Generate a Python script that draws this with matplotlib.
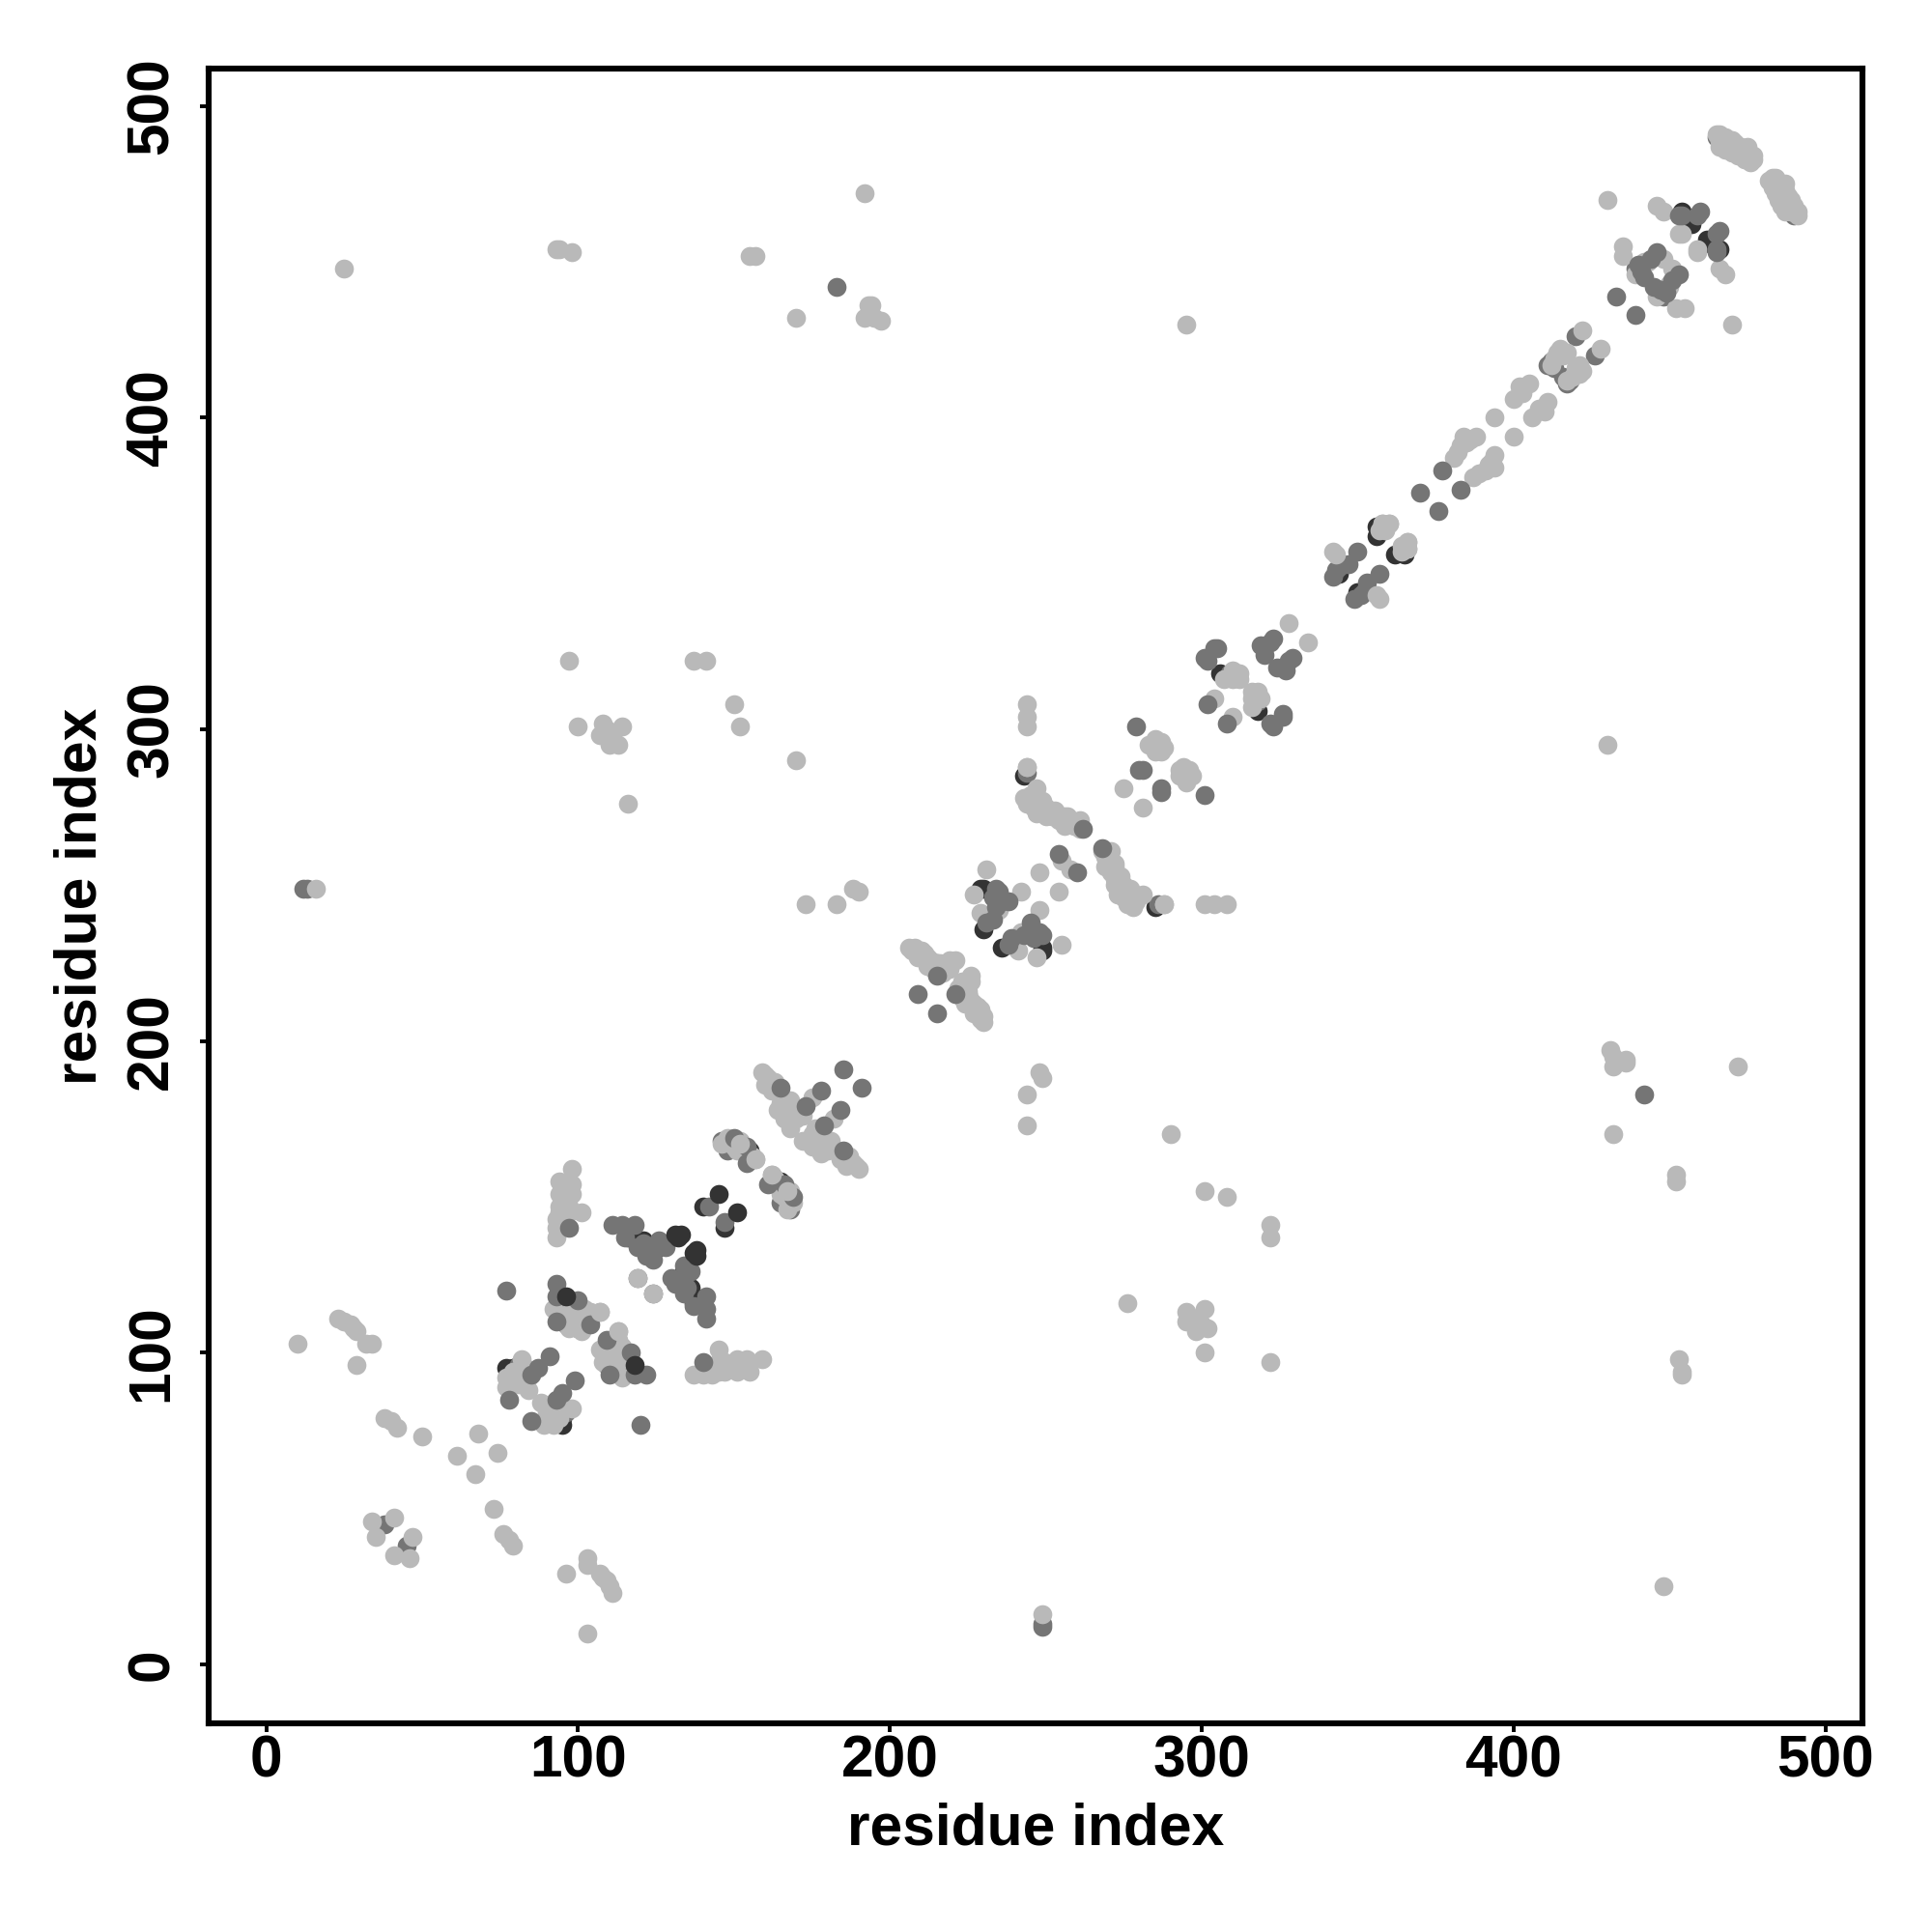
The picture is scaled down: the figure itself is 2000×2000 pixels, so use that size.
#!/usr/bin/env python3
"""Residue contact map, greyscale by contact strength."""

import matplotlib

matplotlib.use("Agg")
import matplotlib.pyplot as plt

# contacts as (i, j) with i < j, each one is drawn on both sides of the diagonal
# drawn in order: dark, mid, light, then the strong ones that sit on top
dark_pairs = [
    (77, 95), (98, 113), (116, 137), (121, 136), (124, 133), (126, 134),
    (140, 147), (155, 165), (155, 162), (229, 249), (230, 236), (230, 249),
    (243, 285), (306, 318), (356, 362), (356, 365), (456, 463), (457, 462),
    (454, 466), (307, 317), (344, 350), (79, 95), (96, 112),
]
mid_under_pairs = [
    (12, 249), (13, 249), (38, 45), (77, 120), (119, 124), (244, 286), (411, 417),
    (420, 426), (441, 447), (439, 448), (309, 318), (305, 326), (301, 323),
    (281, 287), (81, 96), (79, 92), (94, 113), (96, 109), (100, 108), (215, 225),
    (165, 183), (166, 178), (146, 168), (148, 165), (412, 418), (413, 416),
    (465, 490), (468, 488), (474, 485),
]
light_pairs = [
    (10, 103), (16, 249), (25, 448), (23, 111), (25, 110), (27, 109), (28, 108),
    (29, 107), (32, 103), (34, 103), (29, 96), (38, 79), (40, 78), (42, 76),
    (50, 73), (61, 67), (68, 74), (34, 46), (35, 41), (41, 47),
    (93, 454), (94, 454), (98, 453), (97, 322), (100, 301), (107, 298), (110, 298),
    (110, 295), (113, 295), (114, 301), (109, 300), (111, 298), (108, 302),
    (116, 276), (137, 322), (141, 322), (150, 308), (152, 301), (155, 452),
    (157, 452), (170, 290), (170, 432), (173, 244), (183, 244), (188, 249),
    (190, 248), (192, 472), (193, 436), (194, 436), (192, 432), (195, 432),
    (197, 431), (244, 308), (244, 304), (244, 301), (244, 288), (295, 430),
    # helix and strand clusters near the diagonal
    (82, 98), (77, 92), (77, 89), (81, 90), (84, 92), (79, 94), (82, 93), (84, 88),
    (80, 92), (78, 90), (83, 95),
    (92, 114), (97, 108), (98, 114), (101, 107), (102, 114), (104, 113),
    (107, 113), (102, 111), (98, 110), (95, 112), (100, 110), (94, 112),
    (98, 159), (94, 155), (98, 154), (94, 151), (98, 151), (94, 147), (101, 145),
    (93, 140), (93, 137), (97, 147), (97, 145), (93, 143), (96, 150), (96, 153),
    (95, 148), (94, 145),
    (146, 167), (148, 169), (152, 168), (150, 166), (156, 163), (153, 165), (157, 162),
    (149, 168), (151, 165),
    (159, 190), (160, 189), (160, 186), (163, 184), (165, 183), (166, 181), (168, 181),
    (167, 176), (168, 172), (170, 175), (164, 178), (172, 176), (175, 182), (162, 184),
    (161, 188), (163, 187), (165, 180), (167, 179), (169, 178), (166, 175),
    (206, 230), (207, 229), (210, 229), (209, 227), (212, 224), (213, 226),
    (218, 224), (219, 226), (221, 226), (211, 228), (208, 230), (210, 227), (214, 223),
    (217, 222), (216, 225), (212, 227), (219, 223),
    (231, 255), (227, 247), (235, 242), (229, 241), (242, 248), (248, 254), (255, 258),
    (243, 278), (244, 276), (247, 281), (249, 277), (247, 273), (250, 275), (253, 274),
    (256, 269), (257, 272), (261, 271), (261, 268), (258, 270), (245, 279), (252, 272),
    (246, 275), (248, 274), (250, 272), (254, 271), (256, 272), (259, 269), (247, 278),
    (285, 297), (288, 294), (286, 296), (287, 293), (285, 293), (275, 281), (283, 295),
    (286, 294), (287, 296),
    (311, 317), (310, 319), (304, 310), (307, 316), (312, 316), (328, 334),
    (312, 318), (310, 316),
    (358, 366), (357, 364), (360, 366), (359, 364),
    (382, 389), (385, 392), (388, 394), (384, 394), (381, 387), (383, 391), (386, 393),
    (394, 400), (400, 406), (402, 410), (405, 411), (403, 408),
    (412, 417), (414, 421), (416, 420), (415, 422), (417, 421), (413, 419),
    (422, 428), (430, 470), (435, 455), (435, 452), (443, 450), (439, 446), (441, 449),
    (446, 468), (448, 466), (453, 459), (454, 459), (448, 451), (442, 450),
    # end of the chain, a thick band
    (465, 491), (466, 491), (467, 490), (468, 489), (470, 489), (471, 488), (473, 487),
    (475, 485), (476, 484), (477, 484), (466, 489), (467, 488), (469, 487), (472, 486),
    (474, 484), (468, 490), (470, 487), (473, 485), (466, 487), (468, 486), (470, 485),
    (472, 484), (474, 483), (476, 482), (469, 489), (471, 486), (475, 487), (477, 483),
]
mid_over_pairs = [
    (78, 85), (85, 93), (87, 95), (91, 99), (93, 122), (93, 118), (93, 110),
    (100, 117), (104, 109), (111, 141), (114, 141), (118, 141), (115, 137),
    (119, 134), (124, 130), (128, 134), (97, 140), (142, 147), (154, 166),
    (154, 161), (150, 169), (165, 185), (173, 179), (178, 184), (185, 191),
    (183, 442), (215, 221), (209, 215), (234, 249), (238, 245), (233, 239),
    (231, 238), (236, 245), (233, 246), (234, 243), (235, 248),
    (254, 260), (262, 268), (279, 301), (280, 287), (302, 322), (304, 326),
    (302, 308), (319, 327), (323, 329), (320, 324), (322, 328),
    (342, 349), (345, 353), (347, 353), (350, 357), (343, 351), (344, 352),
    (370, 376), (377, 383), (433, 439), (446, 453), (442, 445), (441, 447),
    (440, 449), (444, 451), (453, 465), (460, 466), (459, 465), (465, 454),
    (121, 135), (123, 132), (126, 136), (122, 131),
]
top_dark_pairs = [(145, 151), (131, 138), (133, 138), (132, 137), (96, 118)]
top_light_pairs = [(342, 357), (343, 356), (358, 366), (360, 366), (107, 113),
                   (152, 167), (157, 162), (311, 318), (244, 288), (119, 124),
                   (466, 489)]

tick_values = [0, 100, 200, 300, 400, 500]
axis_label = "residue index"

DARK = "#333333"
MID = "#757575"
LIGHT = "#B9B9B9"


def both_sides(pairs):
    xs = [p[0] for p in pairs] + [p[1] for p in pairs]
    ys = [p[1] for p in pairs] + [p[0] for p in pairs]
    return xs, ys


plt.rcParams["font.family"] = ["Liberation Sans", "DejaVu Sans"]

fig = plt.figure(figsize=(10, 10), dpi=200)
ax = fig.add_axes([216 / 2000, 1 - 1784 / 2000, 1712 / 2000, 1713 / 2000])

for pairs, color in [
    (dark_pairs, DARK),
    (mid_under_pairs, MID),
    (light_pairs, LIGHT),
    (mid_over_pairs, MID),
    (top_dark_pairs, DARK),
    (top_light_pairs, LIGHT),
]:
    xs, ys = both_sides(pairs)
    ax.scatter(xs, ys, s=50, c=color, linewidths=0)

ax.set_xlim(-18.5, 511.9)
ax.set_ylim(-18.9, 512.0)
ax.set_xticks(tick_values)
ax.set_yticks(tick_values)
ax.tick_params(axis="both", length=3.2, width=1.4, labelsize=21.8)
ax.tick_params(axis="x", pad=0.8)
ax.tick_params(axis="y", pad=7.3)
for label in ax.get_xticklabels():
    label.set_fontweight("bold")
for label in ax.get_yticklabels():
    label.set_fontweight("bold")
    label.set_rotation(90)
    label.set_va("center")
ax.set_xlabel(axis_label, fontsize=21.8, fontweight="bold", labelpad=4.9)
ax.set_ylabel(axis_label, fontsize=21.8, fontweight="bold", labelpad=6.4)
for spine in ax.spines.values():
    spine.set_linewidth(2.2)

fig.savefig("out.png", dpi=200)
plt.close(fig)
